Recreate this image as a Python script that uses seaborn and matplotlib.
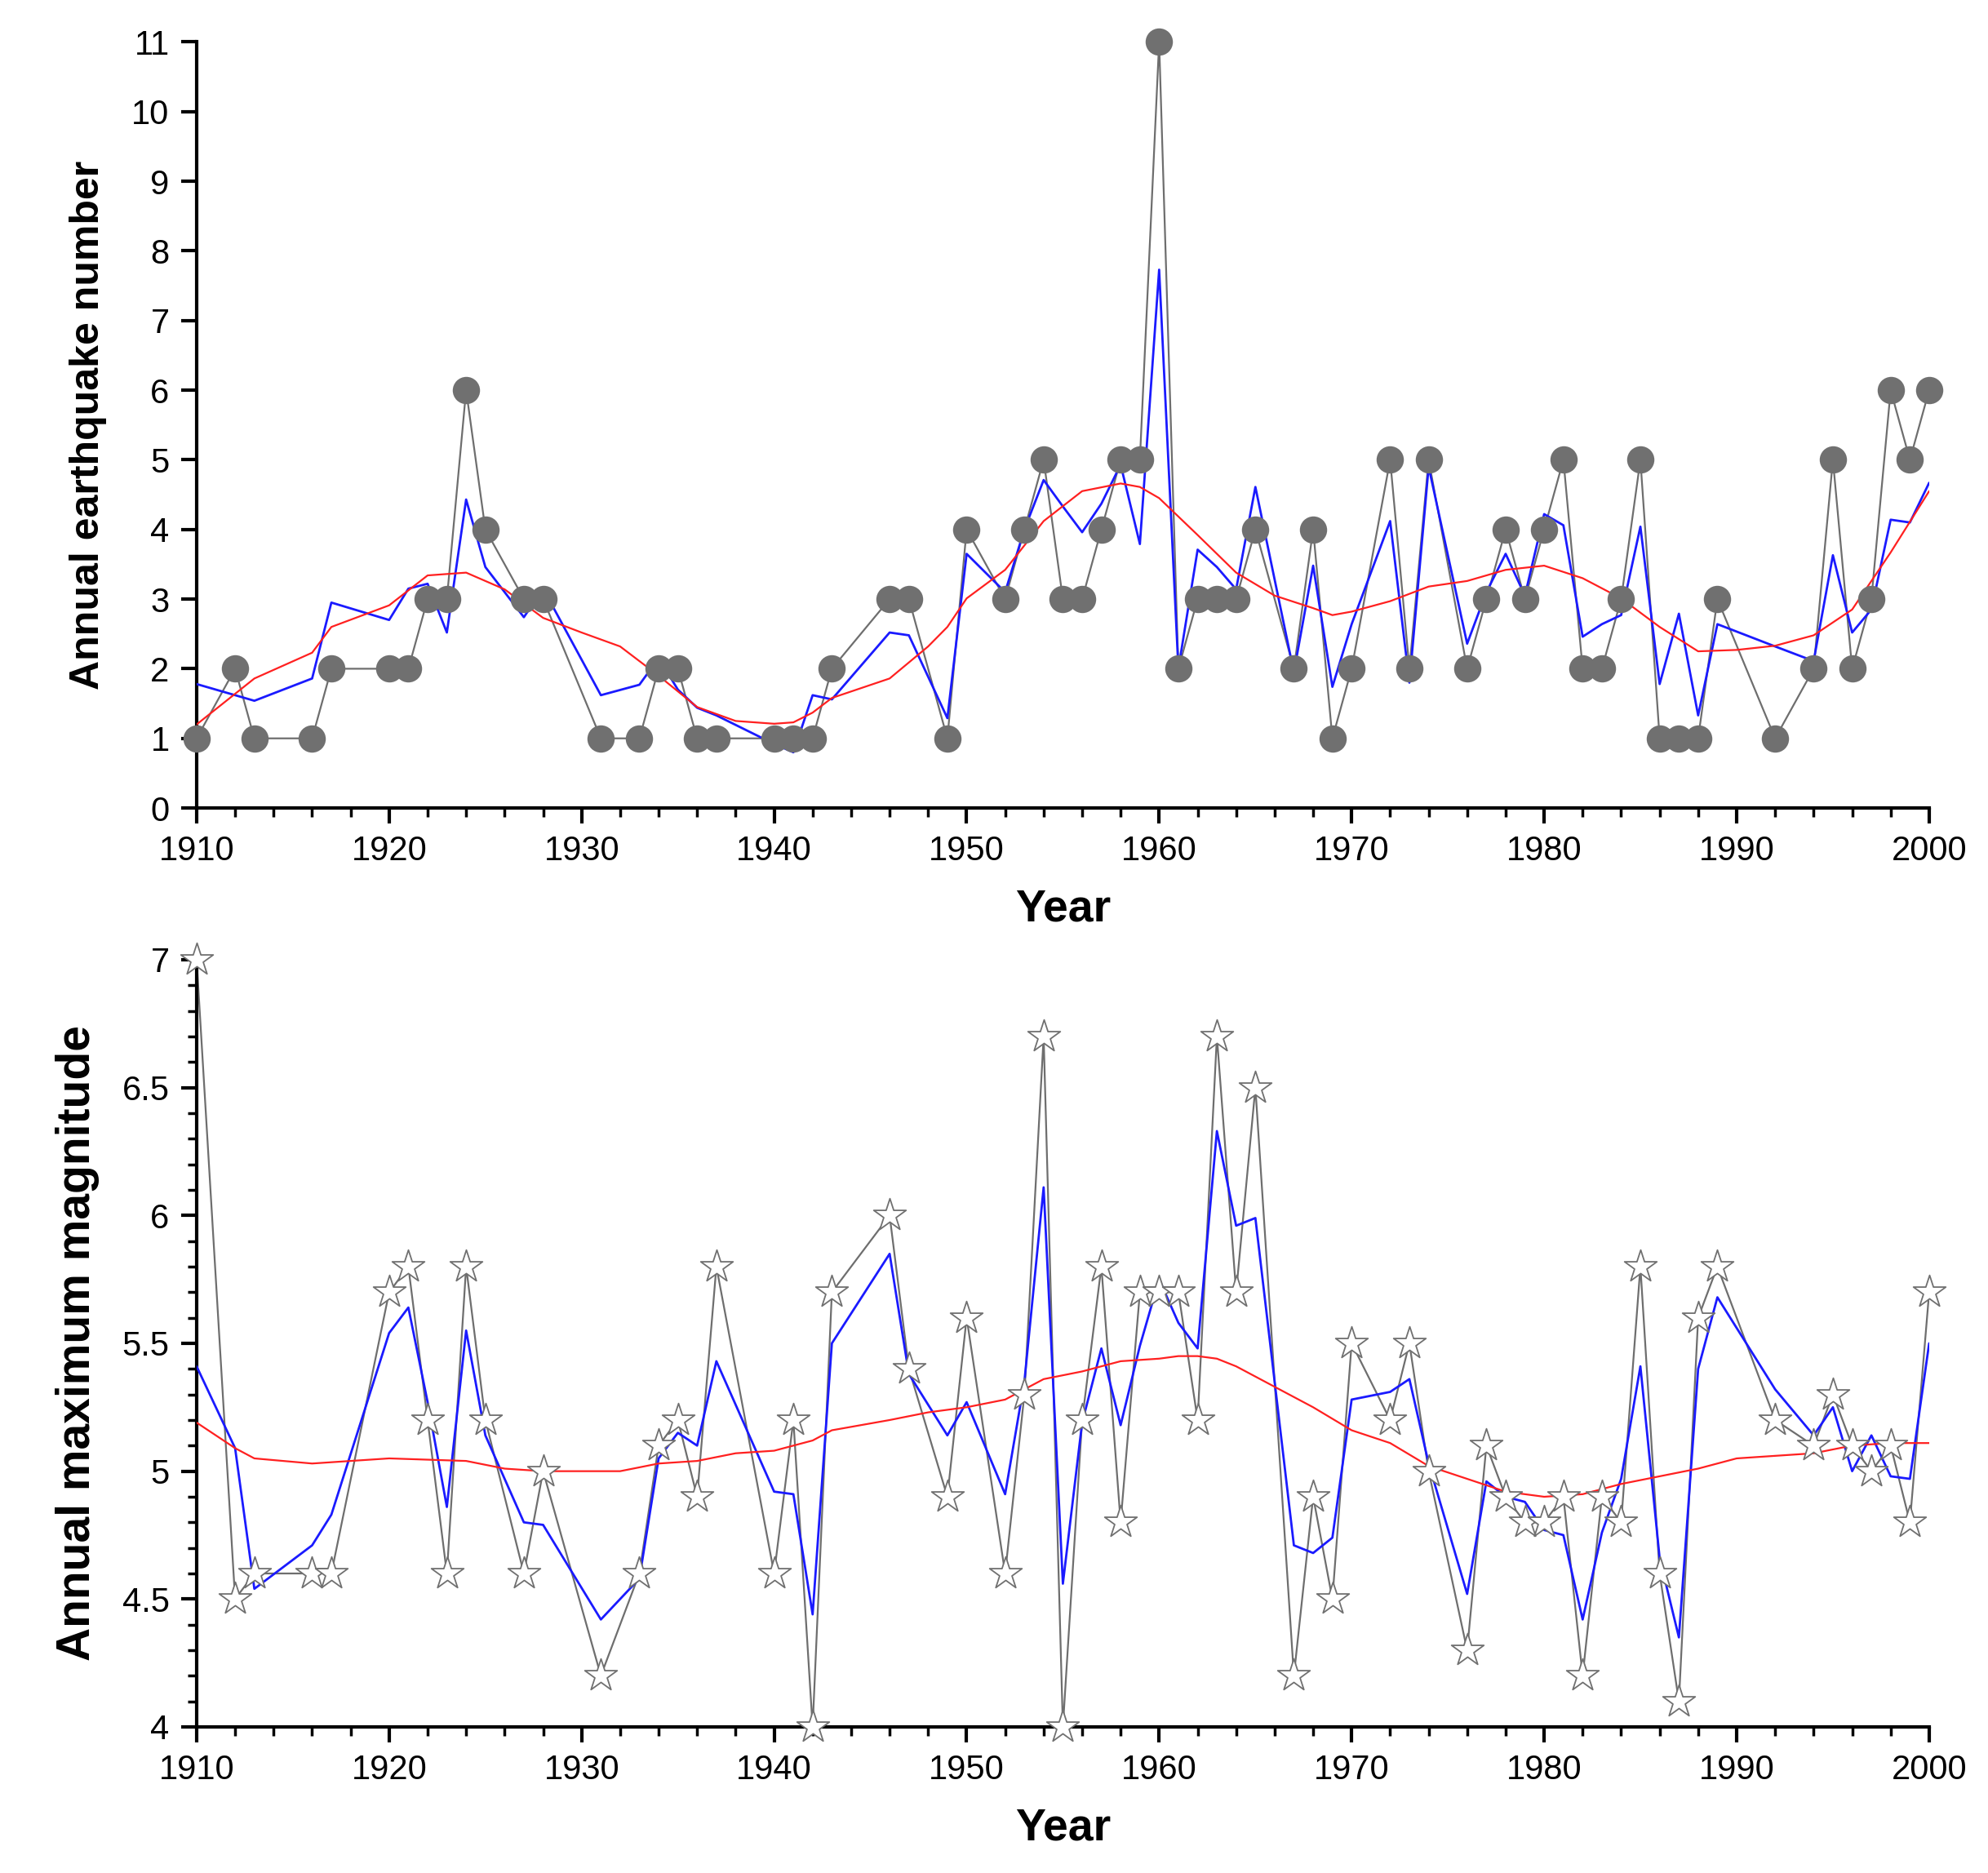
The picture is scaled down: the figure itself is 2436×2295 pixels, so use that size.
import numpy as np
import pandas as pd
import matplotlib
matplotlib.use("Agg")
import matplotlib.pyplot as plt
from matplotlib.ticker import MultipleLocator, FormatStrFormatter
import seaborn as sns

# years with at least one event
years = [1910, 1912, 1913, 1916, 1917, 1920, 1921, 1922, 1923, 1924, 1925, 1927, 1928,
         1931, 1933, 1934, 1935, 1936, 1937, 1940, 1941, 1942, 1943, 1946, 1947, 1949,
         1950, 1952, 1953, 1954, 1955, 1956, 1957, 1958, 1959, 1960, 1961, 1962, 1963,
         1964, 1965, 1967, 1968, 1969, 1970, 1972, 1973, 1974, 1976, 1977, 1978, 1979,
         1980, 1981, 1982, 1983, 1984, 1985, 1986, 1987, 1988, 1989, 1992, 1994, 1995,
         1996, 1997, 1998, 1999, 2000]

counts = [1, 2, 1, 1, 2, 2, 2, 3, 3, 6, 4, 3, 3,
          1, 1, 2, 2, 1, 1, 1, 1, 1, 2, 3, 3, 1,
          4, 3, 4, 5, 3, 3, 4, 5, 5, 11, 2, 3, 3,
          3, 4, 2, 4, 1, 2, 5, 2, 5, 2, 3, 4, 3,
          4, 5, 2, 2, 3, 5, 1, 1, 1, 3, 1, 2, 5,
          2, 3, 6, 5, 6]

counts_smooth = [1.78, 1.62, 1.54, 1.86, 2.95, 2.70, 3.15, 3.22, 2.52, 4.43, 3.46, 2.74, 3.15,
                 1.62, 1.77, 2.15, 1.70, 1.44, 1.33, 0.92, 0.80, 1.62, 1.56, 2.52, 2.48, 1.29,
                 3.65, 3.10, 4.00, 4.71, 4.33, 3.96, 4.37, 4.93, 3.79, 7.73, 2.00, 3.71, 3.46,
                 3.14, 4.61, 1.95, 3.48, 1.74, 2.64, 4.12, 1.80, 4.90, 2.36, 3.10, 3.65, 3.05,
                 4.22, 4.06, 2.46, 2.64, 2.77, 4.04, 1.78, 2.79, 1.33, 2.64, 2.32, 2.11, 3.63,
                 2.52, 2.85, 4.14, 4.10, 4.67]

trend_years_top = [1910, 1913, 1916, 1917, 1920, 1922, 1924, 1926, 1928, 1930, 1932, 1934,
                   1936, 1938, 1940, 1941, 1942, 1943, 1946, 1948, 1949, 1950, 1952, 1954,
                   1956, 1958, 1959, 1960, 1962, 1964, 1966, 1968, 1969, 1970, 1972, 1974,
                   1976, 1978, 1980, 1982, 1984, 1986, 1988, 1990, 1992, 1994, 1996, 1998, 2000]
counts_trend = [1.20, 1.86, 2.23, 2.60, 2.91, 3.34, 3.38, 3.14, 2.73, 2.52, 2.32, 1.90,
                1.45, 1.25, 1.21, 1.23, 1.37, 1.58, 1.86, 2.32, 2.60, 3.01, 3.42, 4.12,
                4.55, 4.66, 4.61, 4.45, 3.92, 3.38, 3.05, 2.87, 2.77, 2.82, 2.97, 3.18,
                3.26, 3.42, 3.48, 3.30, 3.01, 2.60, 2.25, 2.27, 2.33, 2.48, 2.85, 3.67, 4.55]

mags = [7.0, 4.5, 4.6, 4.6, 4.6, 5.7, 5.8, 5.2, 4.6, 5.8, 5.2, 4.6, 5.0,
        4.2, 4.6, 5.1, 5.2, 4.9, 5.8, 4.6, 5.2, 4.0, 5.7, 6.0, 5.4, 4.9,
        5.6, 4.6, 5.3, 6.7, 4.0, 5.2, 5.8, 4.8, 5.7, 5.7, 5.7, 5.2, 6.7,
        5.7, 6.5, 4.2, 4.9, 4.5, 5.5, 5.2, 5.5, 5.0, 4.3, 5.1, 4.9, 4.8,
        4.8, 4.9, 4.2, 4.9, 4.8, 5.8, 4.6, 4.1, 5.6, 5.8, 5.2, 5.1, 5.3,
        5.1, 5.0, 5.1, 4.8, 5.7]

mags_smooth = [5.41, 5.09, 4.54, 4.71, 4.83, 5.54, 5.64, 5.27, 4.86, 5.55, 5.14, 4.80, 4.79,
               4.42, 4.58, 5.05, 5.15, 5.10, 5.43, 4.92, 4.91, 4.44, 5.50, 5.85, 5.38, 5.14,
               5.27, 4.91, 5.35, 6.11, 4.56, 5.19, 5.48, 5.18, 5.49, 5.75, 5.58, 5.48, 6.33,
               5.96, 5.99, 4.71, 4.68, 4.74, 5.28, 5.31, 5.36, 5.03, 4.52, 4.96, 4.90, 4.88,
               4.77, 4.75, 4.42, 4.76, 4.97, 5.41, 4.66, 4.35, 5.40, 5.68, 5.32, 5.14, 5.25,
               5.00, 5.14, 4.98, 4.97, 5.50]

trend_years_bot = [1910, 1912, 1913, 1916, 1920, 1924, 1926, 1928, 1932, 1934, 1936, 1938,
                   1940, 1942, 1943, 1946, 1948, 1950, 1952, 1954, 1956, 1958, 1960, 1961,
                   1962, 1963, 1964, 1966, 1968, 1970, 1972, 1974, 1976, 1978, 1980, 1982,
                   1984, 1986, 1988, 1990, 1992, 1994, 1996, 1998, 2000]
mags_trend = [5.19, 5.09, 5.05, 5.03, 5.05, 5.04, 5.01, 5.00, 5.00, 5.03, 5.04, 5.07,
              5.08, 5.12, 5.16, 5.20, 5.23, 5.25, 5.28, 5.36, 5.39, 5.43, 5.44, 5.45,
              5.45, 5.44, 5.41, 5.33, 5.25, 5.16, 5.11, 5.02, 4.97, 4.92, 4.90, 4.91,
              4.95, 4.98, 5.01, 5.05, 5.06, 5.07, 5.10, 5.11, 5.11]

sns.set_style("ticks")
plt.rcParams['font.family'] = ['Liberation Sans', 'DejaVu Sans']
plt.rcParams['text.color'] = 'black'
plt.rcParams['axes.labelcolor'] = 'black'

fig = plt.figure(figsize=(24.36, 22.95), dpi=100)
ax1 = fig.add_axes([0.0989, 0.5686, 0.8715, 0.409])
ax2 = fig.add_axes([0.0989, 0.078, 0.8715, 0.4096])

df = pd.DataFrame({'year': years, 'count': counts, 'count_s': counts_smooth,
                   'mag': mags, 'mag_s': mags_smooth})
top_tr = pd.DataFrame({'year': trend_years_top, 'v': counts_trend})
bot_tr = pd.DataFrame({'year': trend_years_bot, 'v': mags_trend})

# top panel: annual counts
sns.lineplot(data=df, x='year', y='count', ax=ax1, color='#6e6e6e', lw=1.6, zorder=2)
sns.lineplot(data=df, x='year', y='count_s', ax=ax1, color='#1a1aff', lw=2.0, zorder=3)
sns.lineplot(data=top_tr, x='year', y='v', ax=ax1, color='#ff2020', lw=1.6, zorder=4)
sns.scatterplot(data=df, x='year', y='count', ax=ax1, color='#707070', s=580,
                edgecolor='#707070', linewidth=0, zorder=5, clip_on=False)

# bottom panel: annual max magnitude
sns.lineplot(data=df, x='year', y='mag', ax=ax2, color='#6e6e6e', lw=1.6, zorder=2)
sns.lineplot(data=df, x='year', y='mag_s', ax=ax2, color='#1a1aff', lw=2.0, zorder=3)
sns.lineplot(data=bot_tr, x='year', y='v', ax=ax2, color='#ff2020', lw=1.6, zorder=4)
sns.scatterplot(data=df, x='year', y='mag', ax=ax2, marker='*', s=900, color='white',
                edgecolor='#707070', linewidth=1.3, zorder=5, clip_on=False)

for ax in (ax1, ax2):
    ax.set_xlim(1910, 2000)
    ax.xaxis.set_major_locator(MultipleLocator(10))
    ax.xaxis.set_minor_locator(MultipleLocator(2))
    for s in ('top', 'right'):
        ax.spines[s].set_visible(False)
    for s in ('left', 'bottom'):
        ax.spines[s].set_linewidth(3)
        ax.spines[s].set_color('black')
    ax.tick_params(which='major', direction='out', length=14, width=3, labelsize=30,
                   colors='black', pad=10)
    ax.tick_params(which='minor', direction='out', length=8, width=2.5, colors='black')
    ax.set_xlabel('Year', fontsize=40, fontweight='bold', labelpad=18, color='black')

ax1.set_ylim(0, 11)
ax1.yaxis.set_major_locator(MultipleLocator(1))
ax1.set_ylabel('Annual earthquake number', fontsize=36, fontweight='bold', labelpad=22,
               color='black')

ax2.set_ylim(4, 7)
ax2.yaxis.set_major_locator(MultipleLocator(0.5))
ax2.yaxis.set_minor_locator(MultipleLocator(0.1))
ax2.yaxis.set_major_formatter(FormatStrFormatter('%g'))
ax2.set_ylabel('Annual maximum magnitude', fontsize=41, fontweight='bold', labelpad=20,
               color='black')

fig.savefig('out.png', dpi=100, facecolor='white')
